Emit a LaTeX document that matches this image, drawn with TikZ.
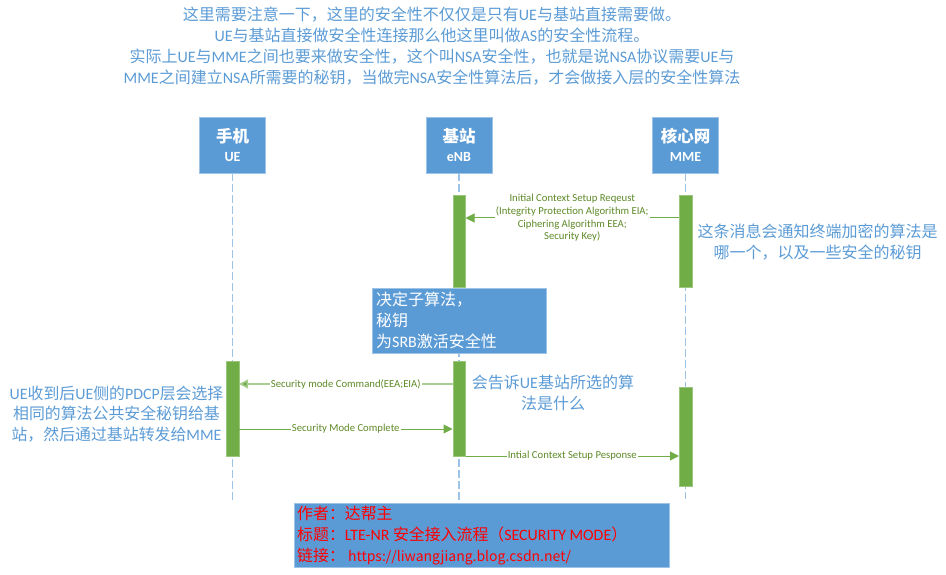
\documentclass[tikz,border=0pt]{standalone}
\usepackage{fontspec}
\setmainfont{Noto Sans CJK SC}
\newfontfamily\lat{Carlito}
\newcommand{\la}[1]{{\lat #1}}
\usetikzlibrary{arrows.meta}
\definecolor{bluebox}{HTML}{5B9BD5}
\definecolor{bluepale}{HTML}{9DC3E6}
\definecolor{barg}{HTML}{70AD47}
\definecolor{labelg}{HTML}{5E8A28}
\tikzset{
  head/.style={fill=bluebox,draw=bluepale,line width=.6pt,minimum width=66pt,minimum height=56pt,inner sep=0pt,text=white,align=center,font=\fontsize{16.5}{20}\selectfont\bfseries},
  bar/.style={fill=barg,draw=barg!70!white,line width=.5pt,minimum width=12.5pt,inner sep=0pt},
  life/.style={draw=bluepale,line width=1.1pt,dash pattern=on 7.5pt off 3.5pt},
  msg/.style={draw=barg,line width=1pt,-{Triangle[length=9pt,width=9pt,fill=barg]}},
  msgl/.style={draw=barg!60!white,line width=1.5pt,-{Triangle[length=9pt,width=9pt,fill=barg]}},
  lab/.style={fill=white,inner sep=1pt,text=labelg,align=center,font=\lat\fontsize{10.7}{12.6}\selectfont},
  note/.style={text=bluebox,align=center,inner sep=0pt,font=\fontsize{16}{21}\selectfont},
  panel/.style={fill=bluebox,draw=bluepale,line width=.6pt,inner sep=0pt},
}
\begin{document}
\begin{tikzpicture}[x=1pt,y=-1pt]
\useasboundingbox (0,0) rectangle (946,575);
\node[note] (title) at (432,46.5) {这里需要注意一下，这里的安全性不仅仅是只有\la{UE}与基站直接需要做。\\
\la{UE}与基站直接做安全性连接那么他这里叫做\la{AS}的安全性流程。\\
实际上\la{UE}与\la{MME}之间也要来做安全性，这个叫\la{NSA}安全性，也就是说\la{NSA}协议需要\la{UE}与\\
\la{MME}之间建立\la{NSA}所需要的秘钥，当做完\la{NSA}安全性算法后，才会做接入层的安全性算法};

\node[head] (ue) at (232.5,145) {手机\\[-1pt]{\lat\fontsize{14}{16}\selectfont\bfseries UE}};
\node[head] (enb) at (459,145) {基站\\[-1pt]{\lat\fontsize{14}{16}\selectfont\bfseries eNB}};
\node[head] (mme) at (685.5,145) {核心网\\[-1pt]{\lat\fontsize{14}{16}\selectfont\bfseries MME}};

\coordinate (ueend) at (232.5,500);
\coordinate (enbend) at (459,500);
\coordinate (mmeend) at (685.5,499);
\draw[life] (ue.south) -- (ueend);
\draw[life] (enb.south) -- (enbend);
\draw[life] (mme.south) -- (mmeend);

\node[bar,minimum height=92pt] (e1) at (459,241) {};
\node[bar,minimum height=92pt] (m1) at (685.5,241) {};
\node[bar,minimum height=95pt] (u2) at (232.5,408.5) {};
\node[bar,minimum height=95pt] (e2) at (459,408.5) {};
\node[bar,minimum height=99pt] (m2) at (685.5,436.5) {};

\node[panel,minimum width=174pt,minimum height=65pt] (dec) at (459,320.5) {};
\node[anchor=west,text=white,align=left,inner sep=0pt,font=\fontsize{16}{21}\selectfont] (dect) at (376,320.5) {决定子算法，\\秘钥\\为\la{SRB}激活安全性};

\draw[msg] (m1.west |- 0,218) -- node[lab] (l1) {Initial Context Setup Reqeust\\(Integrity Protection Algorithm EIA;\\Ciphering Algorithm EEA;\\Security Key)} (e1.east |- 0,218);
\draw[msgl] (e2.west |- 0,384) -- node[lab] (l2) {Security mode Command(EEA;EIA)} (u2.east |- 0,384);
\draw[msg] (u2.east |- 0,429) -- node[lab] (l3) {Security Mode Complete} (e2.west |- 0,429);
\draw[msg] (e2.east |- 0,456) -- node[lab] (l4) {Intial Context Setup Pesponse} (m2.west |- 0,456);

\node[note] (nr) at (817.5,242) {这条消息会通知终端加密的算法是\\哪一个，以及一些安全的秘钥};
\node[note] (nc) at (553,393) {会告诉\la{UE}基站所选的算\\法是什么};
\node[note,font=\fontsize{15.9}{20.5}\selectfont] (nl) at (116.5,414) {\la{UE}收到后\la{UE}侧的\la{PDCP}层会选择\\相同的算法公共安全秘钥给基\\站，然后通过基站转发给\la{MME}};

\node[panel,minimum width=375pt,minimum height=64pt] (foot) at (481.5,535) {};
\node[anchor=west,text=red,align=left,inner sep=0pt,font=\fontsize{15.9}{21}\selectfont] (foott) at (297,536) {作者：达帮主\\标题：\la{LTE-NR} 安全接入流程（\la{SECURITY MODE}）\\链接：{\fontsize{14}{21}\selectfont\ https://liwangjiang.blog.csdn.net/}};
\end{tikzpicture}
\end{document}
